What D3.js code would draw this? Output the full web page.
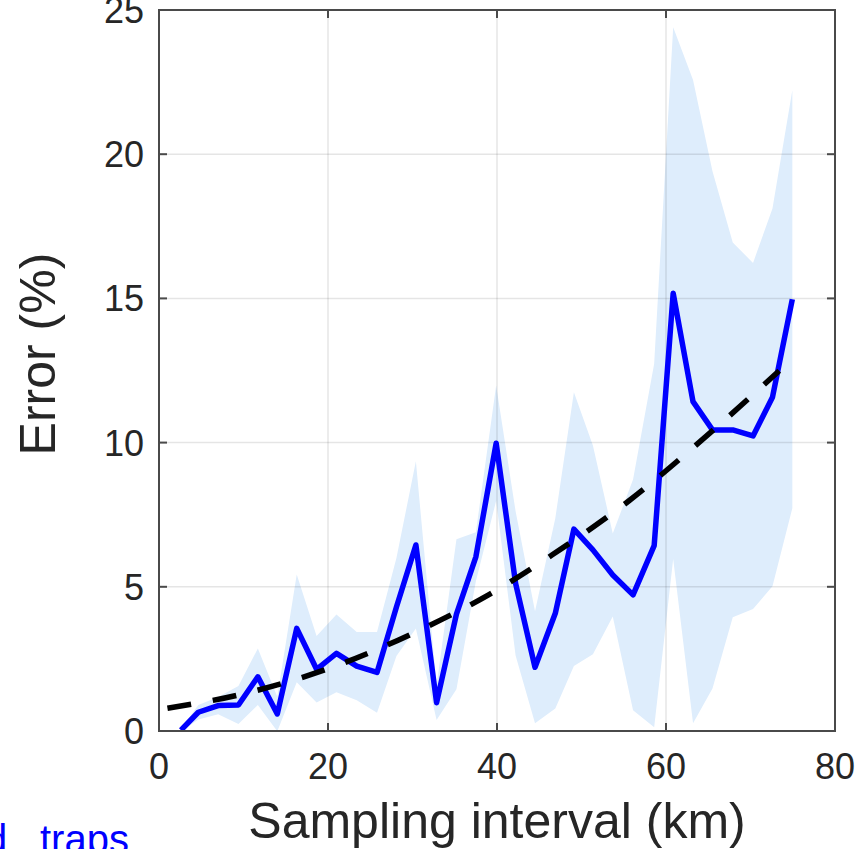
<!DOCTYPE html>
<html>
<head>
<meta charset="utf-8">
<script src="https://cdn.jsdelivr.net/npm/d3@7"></script>
<style>
  body { margin: 0; background: #fff; }
  svg { display: block; font-family: "Liberation Sans", Arial, Helvetica, sans-serif; }
  .tick-label { font-size: 36px; fill: #262626; }
  .axis-label { font-size: 50px; fill: #262626; }
</style>
</head>
<body>
<svg id="chart" width="859" height="849"></svg>
<script>
// sampling interval (km)
const interval = [2.6, 4.65, 7.0, 9.4, 11.7, 14.0, 16.3, 18.65, 21.0, 23.4, 25.8, 28.1,
  30.4, 32.85, 35.2, 37.5, 39.9, 42.2, 44.5, 46.9, 49.1, 51.35, 53.7, 56.1, 58.6,
  60.85, 63.2, 65.5, 67.9, 70.3, 72.6, 74.95]
// mean error (%)
const meanErr = [0.03, 0.65, 0.88, 0.9, 1.88, 0.59, 3.56, 2.14, 2.69, 2.25, 2.03, 4.3,
  6.45, 0.98, 4.05, 6.04, 9.98, 5.12, 2.21, 4.08, 7.0, 6.28, 5.41, 4.72, 6.43,
  15.18, 11.42, 10.44, 10.44, 10.23, 11.57, 14.97]
// spread (+/-) of the error
const sdErr = [0.05, 0.25, 0.3, 0.66, 0.98, 0.6, 1.87, 1.15, 1.35, 1.18, 1.4, 1.7,
  2.9, 0.6, 2.6, 0.85, 2.0, 2.5, 1.94, 3.3, 4.75, 3.62, 1.44, 4.0, 6.3,
  9.22, 11.15, 8.97, 6.5, 6.0, 6.55, 7.25]
// fitted trend (dashed)
const fitX = [1, 9.4, 20.4, 31.3, 39, 46.5, 55.7, 64.6, 73.4]
const fitY = [0.79, 1.25, 2.2, 3.56, 4.72, 6.1, 8.0, 10.18, 12.49]

const xTicks = [0, 20, 40, 60, 80]
const yTicks = [0, 5, 10, 15, 20, 25]

const svg = d3.select("#chart")
const plotL = 159, plotR = 835, plotT = 10, plotB = 731

const x = d3.scaleLinear().domain([0, 80]).range([plotL, plotR])
const y = d3.scaleLinear().domain([0, 25]).range([plotB, plotT])

const rows = interval.map((d, i) => ({ x: d, m: meanErr[i], s: sdErr[i] }))
const fit = fitX.map((d, i) => ({ x: d, y: fitY[i] }))

svg.append("clipPath").attr("id", "plot-clip")
  .append("rect")
  .attr("x", plotL).attr("y", plotT)
  .attr("width", plotR - plotL).attr("height", plotB - plotT)

const plot = svg.append("g").attr("clip-path", "url(#plot-clip)")

// spread band
plot.append("path")
  .datum(rows)
  .attr("fill", "#deedfc")
  .attr("d", d3.area()
    .x(d => x(d.x))
    .y0(d => y(d.m - d.s))
    .y1(d => y(d.m + d.s)))

// grid
plot.selectAll(".gx").data(xTicks.slice(1, -1)).join("line")
  .attr("x1", d => x(d)).attr("x2", d => x(d))
  .attr("y1", plotT).attr("y2", plotB)
  .attr("stroke", "#000").attr("stroke-opacity", 0.1).attr("stroke-width", 1.5)
plot.selectAll(".gy").data(yTicks.slice(1, -1)).join("line")
  .attr("y1", d => y(d)).attr("y2", d => y(d))
  .attr("x1", plotL).attr("x2", plotR)
  .attr("stroke", "#000").attr("stroke-opacity", 0.1).attr("stroke-width", 1.5)

// mean error line
plot.append("path")
  .datum(rows)
  .attr("fill", "none")
  .attr("stroke", "#0000ff")
  .attr("stroke-width", 5.5)
  .attr("stroke-linejoin", "round")
  .attr("d", d3.line().x(d => x(d.x)).y(d => y(d.m)))

// trend
plot.append("path")
  .datum(fit)
  .attr("fill", "none")
  .attr("stroke", "#000")
  .attr("stroke-width", 5.5)
  .attr("stroke-dasharray", "24,22")
  .attr("d", d3.line().curve(d3.curveMonotoneX).x(d => x(d.x)).y(d => y(d.y)))

// box and inward ticks
const tickLen = 8
const axisColor = "#4a4a4a"
svg.append("rect")
  .attr("x", plotL).attr("y", plotT)
  .attr("width", plotR - plotL).attr("height", plotB - plotT)
  .attr("fill", "none").attr("stroke", axisColor).attr("stroke-width", 2)

function tick(x1, y1, x2, y2) {
  svg.append("line")
    .attr("x1", x1).attr("y1", y1).attr("x2", x2).attr("y2", y2)
    .attr("stroke", axisColor).attr("stroke-width", 2)
}

xTicks.forEach(t => {
  tick(x(t), plotB, x(t), plotB - tickLen)
  tick(x(t), plotT, x(t), plotT + tickLen)
  svg.append("text").attr("class", "tick-label")
    .attr("x", x(t)).attr("y", 779).attr("text-anchor", "middle").text(t)
})
yTicks.forEach(t => {
  tick(plotL, y(t), plotL + tickLen, y(t))
  tick(plotR, y(t), plotR - tickLen, y(t))
  svg.append("text").attr("class", "tick-label")
    .attr("x", 144).attr("y", y(t) + 13).attr("text-anchor", "end").text(t)
})

// axis labels
svg.append("text").attr("class", "axis-label")
  .attr("x", (plotL + plotR) / 2).attr("y", 838)
  .attr("text-anchor", "middle")
  .text("Sampling interval (km)")

svg.append("text").attr("class", "axis-label")
  .attr("transform", "translate(55,354) rotate(-90)")
  .attr("text-anchor", "middle")
  .text("Error (%)")

// legend fragment at the bottom edge
svg.append("text")
  .attr("x", -15).attr("y", 853)
  .attr("fill", "#0000ff")
  .style("font-size", "40px")
  .text("d")
  .append("tspan").attr("x", 40).text("traps")
</script>
</body>
</html>
